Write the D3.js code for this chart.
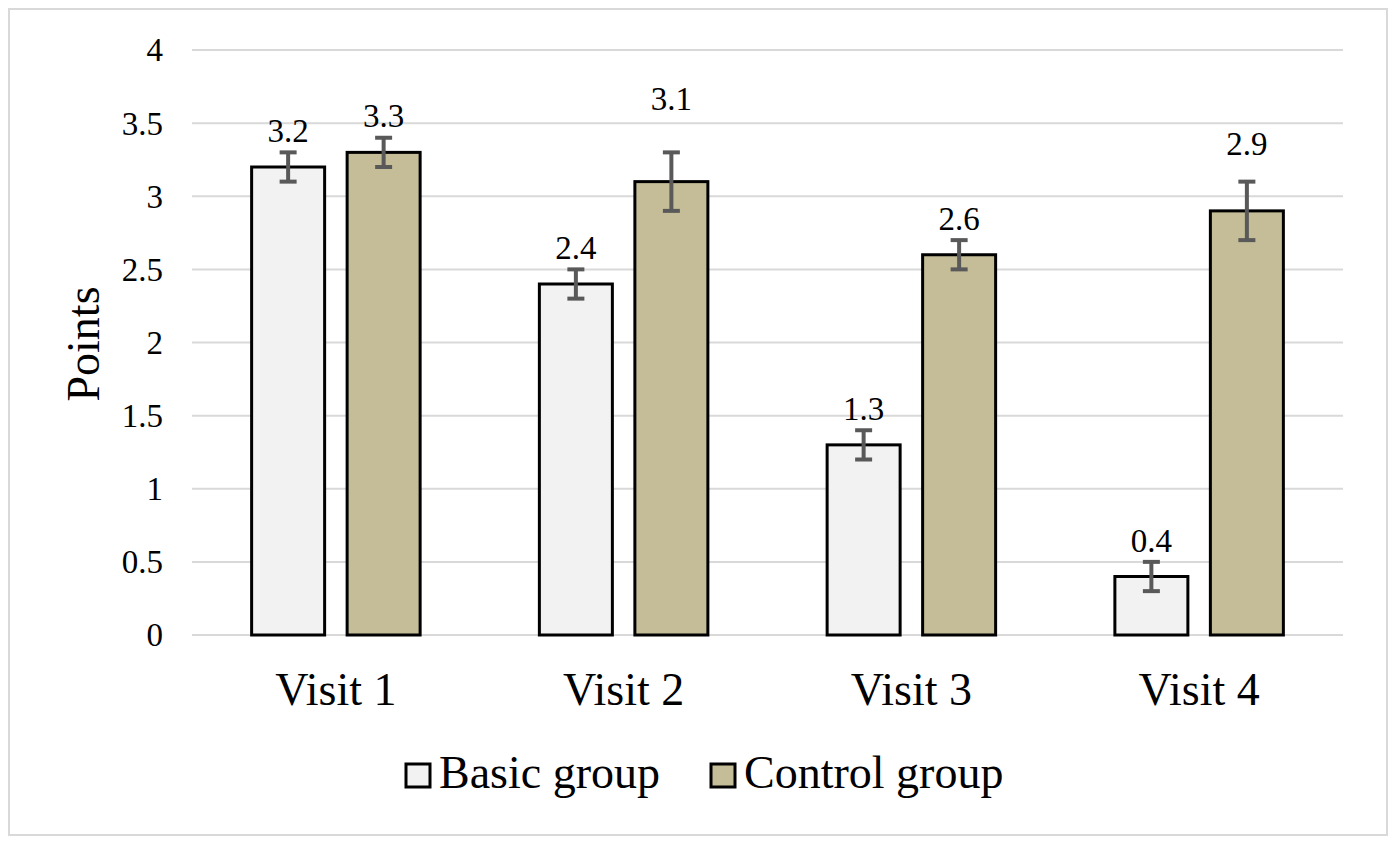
<!DOCTYPE html>
<html>
<head>
<meta charset="utf-8">
<script src="https://cdn.jsdelivr.net/npm/d3@7"></script>
<style>
  body { margin: 0; background: #fff; }
  svg text { font-family: "Liberation Serif", "Times New Roman", serif !important; fill: #000; }
</style>
</head>
<body>
<svg id="chart" width="1395" height="843"></svg>
<script>
// 数据
var categories = ["Visit 1", "Visit 2", "Visit 3", "Visit 4"];
var seriesNames = ["Basic group", "Control group"];
var basicValues = [3.2, 2.4, 1.3, 0.4];
var basicErrors = [0.1, 0.1, 0.1, 0.1];
var controlValues = [3.3, 3.1, 2.6, 2.9];
var controlErrors = [0.1, 0.2, 0.1, 0.2];
var yTicks = [0, 0.5, 1, 1.5, 2, 2.5, 3, 3.5, 4];

var colors = ["#f2f2f2", "#c4bd97"];

var svg = d3.select("#chart");

// 外框
svg
  .append("rect")
  .attr("x", 9)
  .attr("y", 9)
  .attr("width", 1378)
  .attr("height", 826)
  .attr("fill", "#fff")
  .attr("stroke", "#d9d9d9")
  .attr("stroke-width", 2);

var plot = { left: 192, right: 1343, top: 50, bottom: 635 };

var xScale = d3.scaleBand().domain(categories).range([plot.left, plot.right]);
var yScale = d3.scaleLinear().domain([0, 4]).range([plot.bottom, plot.top]);

var barWidth = 73,
  barStep = 95.5;

// 网格线
svg
  .append("g")
  .selectAll("line")
  .data(yTicks)
  .join("line")
  .attr("x1", plot.left)
  .attr("x2", plot.right)
  .attr("y1", function (d) { return yScale(d); })
  .attr("y2", function (d) { return yScale(d); })
  .attr("stroke", "#d9d9d9")
  .attr("stroke-width", 2);

// y轴刻度
var yAxis = d3
  .axisLeft(yScale)
  .tickValues(yTicks)
  .tickSize(0)
  .tickPadding(0)
  .tickFormat(function (d) { return String(d); });

var yAxisG = svg
  .append("g")
  .attr("transform", "translate(163,0)")
  .call(yAxis)
  .attr("font-family", "Liberation Serif")
  .attr("font-size", 33);
yAxisG.select(".domain").remove();
yAxisG.selectAll("text").attr("fill", "#000").attr("dy", "0.33em");

// x轴类别
var xAxis = d3.axisBottom(xScale).tickSize(0).tickPadding(0);
var xAxisG = svg
  .append("g")
  .attr("transform", "translate(0,705)")
  .call(xAxis)
  .attr("font-family", "Liberation Serif")
  .attr("font-size", 46);
xAxisG.select(".domain").remove();
xAxisG.selectAll("text").attr("fill", "#000").attr("dy", 0).attr("y", 0);

// y轴标题
svg
  .append("text")
  .attr("transform", "translate(99,344) rotate(-90)")
  .attr("text-anchor", "middle")
  .attr("font-size", 46)
  .text("Points");

var series = [
  { values: basicValues, errors: basicErrors },
  { values: controlValues, errors: controlErrors },
];

// 手动挪开的标签 (原图中与误差线重叠的标签被手动上移)
var labelNudge = { "1-1": -32, "1-3": -17 };

series.forEach(function (s, si) {
  var offset = (si - 0.5) * barStep;
  var data = categories.map(function (c, i) {
    return { cat: c, i: i, v: s.values[i], e: s.errors[i] };
  });
  var cx = function (d) {
    return xScale(d.cat) + xScale.bandwidth() / 2 + offset;
  };

  var g = svg.append("g");

  g.selectAll("rect")
    .data(data)
    .join("rect")
    .attr("x", function (d) { return cx(d) - barWidth / 2; })
    .attr("y", function (d) { return yScale(d.v); })
    .attr("width", barWidth)
    .attr("height", function (d) { return yScale(0) - yScale(d.v); })
    .attr("fill", colors[si])
    .attr("stroke", "#000")
    .attr("stroke-width", 3);

  // 误差线
  var eb = g.selectAll("g.err").data(data).join("g").attr("class", "err");
  eb.append("line")
    .attr("x1", cx)
    .attr("x2", cx)
    .attr("y1", function (d) { return yScale(d.v - d.e); })
    .attr("y2", function (d) { return yScale(d.v + d.e); });
  eb.append("line")
    .attr("x1", function (d) { return cx(d) - 8.5; })
    .attr("x2", function (d) { return cx(d) + 8.5; })
    .attr("y1", function (d) { return yScale(d.v + d.e); })
    .attr("y2", function (d) { return yScale(d.v + d.e); });
  eb.append("line")
    .attr("x1", function (d) { return cx(d) - 8.5; })
    .attr("x2", function (d) { return cx(d) + 8.5; })
    .attr("y1", function (d) { return yScale(d.v - d.e); })
    .attr("y2", function (d) { return yScale(d.v - d.e); });
  eb.selectAll("line").attr("stroke", "#595959").attr("stroke-width", 4);

  // 数值标签
  g.selectAll("text.lbl")
    .data(data)
    .join("text")
    .attr("class", "lbl")
    .attr("x", cx)
    .attr("y", function (d) {
      var y = Math.min(yScale(d.v) - 25, yScale(d.v + d.e) - 10);
      return y + (labelNudge[si + "-" + d.i] || 0);
    })
    .attr("text-anchor", "middle")
    .attr("font-size", 33)
    .text(function (d) { return d.v.toFixed(1); });
});

// 图例
var legendItems = [
  { name: seriesNames[0], x: 406 },
  { name: seriesNames[1], x: 711 },
];
var legend = svg
  .append("g")
  .selectAll("g")
  .data(legendItems)
  .join("g")
  .attr("transform", function (d) { return "translate(" + d.x + ",764)"; });
legend
  .append("rect")
  .attr("width", 24)
  .attr("height", 23)
  .attr("fill", function (d, i) { return colors[i]; })
  .attr("stroke", "#000")
  .attr("stroke-width", 3);
legend
  .append("text")
  .attr("x", 33)
  .attr("y", 24)
  .attr("font-size", 46)
  .text(function (d) { return d.name; });
</script>
</body>
</html>
